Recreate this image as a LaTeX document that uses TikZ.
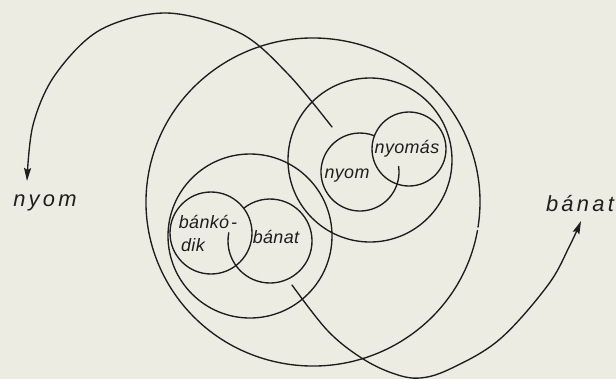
\documentclass[tikz,border=0pt]{standalone}
\usepackage{fontspec}
\setmainfont{Liberation Sans}
\newfontfamily\handin[LetterSpace=2]{Liberation Sans}
\newfontfamily\handout[LetterSpace=15]{Liberation Sans}
\usetikzlibrary{arrows.meta}
\definecolor{paper}{RGB}{237,236,227}
\definecolor{ink}{RGB}{30,30,30}
\begin{document}
\begin{tikzpicture}[x=1bp,y=-1bp,line width=1.35bp,line cap=round,
  ring/.style={draw=ink,circle,inner sep=0pt,outer sep=0pt},
  lblin/.style={inner sep=0pt,text=ink,font=\handin\itshape\fontsize{18}{20}\selectfont},
  lblout/.style={inner sep=0pt,text=ink,font=\handout\itshape\fontsize{22}{24}\selectfont},
  arr/.style={draw=ink,-{Stealth[length=13bp,width=7bp,inset=2bp]}}]
\fill[paper] (0,0) rectangle (616,379);
\useasboundingbox (0,0) rectangle (616,379);
% big outer loop (with its small break on the right)
\coordinate (bigC) at (313,202);
\draw[ink] (bigC) ++(10:167 and 164) arc[start angle=10,end angle=368.8,x radius=167,y radius=164];
% medium circles
\node[ring,minimum size=164bp] (medL) at (250,236) {};
\node[ring,minimum size=164bp] (medR) at (370,160) {};
% small circles
\node[ring,minimum size=74bp] (nyomasC) at (409,149) {};
\coordinate (nyomC) at (360,172);
\draw[ink] (nyomC) ++(-8.2:39) arc[start angle=-8.2,end angle=291.8,radius=39];
\node[ring,minimum size=82bp] (bankC) at (211,233) {};
\coordinate (banatC) at (270,241);
\draw[ink] (banatC) ++(191.3:42) arc[start angle=191.3,end angle=-128.8,radius=42];
% labels
\node[lblin] (tNyomas) at (407,149) {nyomás};
\node[lblin] (tNyom) at (347,176) {nyom};
\node[lblin] (tBank) at (208,222) {bánkó\hspace{2bp}-};
\node[lblin] (tDik) at (193,245) {dik};
\node[lblin] (tBanat) at (276,237) {bánat};
\node[lblout] (oNyom) at (45,203) {nyom};
\node[lblout] (oBanat) at (580,204) {bánat};
% arrows
\coordinate (a1s) at (332,127);
\coordinate (a1e) at (27,181);
\draw[arr] plot[smooth,tension=0.55] coordinates {(a1s) (288,74) (240,33) (167,13) (100,30) (55,75) (33,125) (a1e)};
\coordinate (a2s) at (292,285);
\coordinate (a2e) at (581,221);
\draw[arr] plot[smooth,tension=0.6] coordinates {(a2s) (327,330) (360,357) (392,373) (420,378) (452,368) (500,339) (548,285) (570,245) (a2e)};
\end{tikzpicture}
\end{document}
